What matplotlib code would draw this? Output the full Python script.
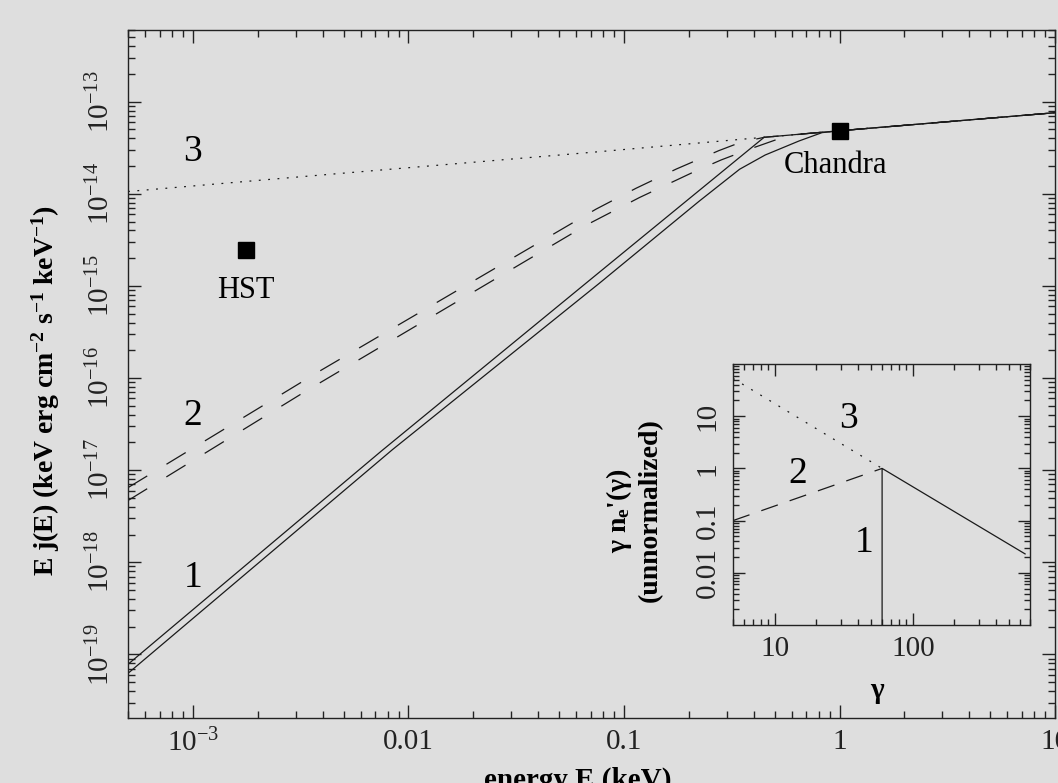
import numpy as np
import matplotlib
matplotlib.use("Agg")
import matplotlib.pyplot as plt
from matplotlib.ticker import FixedLocator, FixedFormatter, LogLocator, NullFormatter

plt.rcParams['font.family'] = ['Liberation Serif', 'DejaVu Serif']
plt.rcParams['mathtext.fontset'] = 'custom'
plt.rcParams['mathtext.rm'] = 'Liberation Serif'
plt.rcParams['mathtext.it'] = 'Liberation Serif:italic'
plt.rcParams['mathtext.bf'] = 'Liberation Serif:bold'

BG = '#dedede'

# --- main panel data: energy (keV) vs E j(E) ---
e_1a = [5e-4, 7.46e-3, 0.0769, 0.447, 1.0, 10.0]
f_1a = [7.8e-20, 1.6e-17, 1.41e-15, 4.11e-14, 4.84e-14, 7.6e-14]

e_1b = [5e-4, 8.43e-3, 0.0769, 0.223, 0.344, 0.452, 0.649, 0.83, 1.0, 10.0]
f_1b = [6.22e-20, 1.67e-17, 1.07e-15, 8.3e-15, 1.85e-14, 2.64e-14, 3.75e-14, 4.62e-14, 4.84e-14, 7.6e-14]

e_2a = [5e-4, 3.92e-3, 0.0741, 0.1138, 0.175, 0.275, 0.344, 0.447, 1.0, 10.0]
f_2a = [6.46e-18, 1.21e-16, 6.81e-15, 1.15e-14, 1.86e-14, 2.94e-14, 3.59e-14, 4.11e-14, 4.84e-14, 7.6e-14]

e_2b = [5e-4, 3.29e-3, 0.0671, 0.1178, 0.157, 0.212, 0.282, 0.381, 0.515, 0.615, 0.708, 1.0, 10.0]
f_2b = [4.68e-18, 7.05e-17, 4.60e-15, 9.10e-15, 1.25e-14, 1.74e-14, 2.33e-14, 3.05e-14,
        3.91e-14, 4.36e-14, 4.52e-14, 4.84e-14, 7.6e-14]

e_3 = [5e-4, 3.24e-3, 0.0769, 0.447, 1.0, 10.0]
f_3 = [1.06e-14, 1.54e-14, 2.87e-14, 4.11e-14, 4.84e-14, 7.6e-14]

obs_names = ['HST', 'Chandra']
obs_e = [1.77e-3, 1.0]
obs_f = [2.47e-15, 4.84e-14]

xticks_main = [1e-3, 0.01, 0.1, 1, 10]
xlabels_main = [r'$\mathregular{10^{-3}}$', '0.01', '0.1', '1', '10']
yticks_main = [1e-19, 1e-18, 1e-17, 1e-16, 1e-15, 1e-14, 1e-13]
ylabels_main = [r'$\mathregular{10^{%d}}$' % k for k in range(-19, -12)]

# --- inset data: electron distribution ---
g_1 = [60, 60, 650]
n_1 = [1e-3, 1.0, 0.023]
g_2 = [5, 60]
n_2 = [0.1, 1.0]
g_3 = [5, 60]
n_3 = [53, 1.0]

xticks_in = [10, 100]
xlabels_in = ['10', '100']
yticks_in = [0.01, 0.1, 1, 10]
ylabels_in = ['0.01', '0.1', '1', '10']

fig = plt.figure(figsize=(10.58, 7.83), dpi=100, facecolor=BG)
ax = fig.add_axes([0.121, 0.0836, 0.8762, 0.878], facecolor=BG)

lc = '#1a1a1a'
ax.plot(e_3, f_3, color=lc, lw=0.9, ls=(0, (1.5, 6)))
ax.plot(e_2a, f_2a, color=lc, lw=0.9, ls=(0, (18, 18)))
ax.plot(e_2b, f_2b, color=lc, lw=0.9, ls=(0, (18, 18)))
ax.plot(e_1a, f_1a, color=lc, lw=0.9)
ax.plot(e_1b, f_1b, color=lc, lw=0.9)
ax.plot(obs_e, obs_f, ls='none', marker='s', ms=12, color='black')

ax.set_xscale('log')
ax.set_yscale('log')
ax.set_xlim(5e-4, 10)
ax.set_ylim(2.06e-20, 6.0e-13)

ax.xaxis.set_major_locator(FixedLocator(xticks_main))
ax.xaxis.set_major_formatter(FixedFormatter(xlabels_main))
ax.xaxis.set_minor_locator(LogLocator(base=10, subs=np.arange(2, 10), numticks=20))
ax.xaxis.set_minor_formatter(NullFormatter())
ax.yaxis.set_major_locator(FixedLocator(yticks_main))
ax.yaxis.set_major_formatter(FixedFormatter(ylabels_main))
ax.yaxis.set_minor_locator(LogLocator(base=10, subs=np.arange(2, 10), numticks=20))
ax.yaxis.set_minor_formatter(NullFormatter())

ax.tick_params(which='both', direction='in', top=True, right=True, width=1.0, colors='#222222')
ax.tick_params(which='major', length=9.5)
ax.tick_params(which='minor', length=4.7)
ax.tick_params(axis='x', which='major', labelsize=21, pad=8)
ax.tick_params(axis='y', which='major', labelsize=21, pad=9, labelrotation=90)
for lab in ax.get_yticklabels():
    lab.set_va('center')
for sp in ax.spines.values():
    sp.set_linewidth(1.0)
    sp.set_color('#222222')

ax.set_xlabel('energy E (keV)', fontsize=21, fontweight='bold')
ax.xaxis.set_label_coords(0.485, -0.072)
ax.set_ylabel(r'E j(E) (keV erg cm$^{\mathbf{-2}}$ s$^{\mathbf{-1}}$ keV$^{\mathbf{-1}}$)',
              fontsize=20, fontweight='bold')
ax.yaxis.set_label_coords(-0.071, 0.476)

ax.text(1.77e-3, 9.0e-16, 'HST', fontsize=22, ha='center', va='center')
ax.text(0.96, 2.05e-14, 'Chandra', fontsize=22, ha='center', va='center')
ax.text(1.0e-3, 2.85e-14, '3', fontsize=27, ha='center', va='center')
ax.text(1.0e-3, 3.9e-17, '2', fontsize=27, ha='center', va='center')
ax.text(1.0e-3, 6.8e-19, '1', fontsize=27, ha='center', va='center')

# --- inset ---
axi = fig.add_axes([0.6928, 0.2018, 0.2803, 0.3333], facecolor=BG)
axi.plot(g_3, n_3, color=lc, lw=0.9, ls=(0, (1.5, 7)))
axi.plot(g_2, n_2, color=lc, lw=0.9, ls=(0, (14, 10)))
axi.plot(g_1, n_1, color=lc, lw=0.9)
axi.set_xscale('log')
axi.set_yscale('log')
axi.set_xlim(5, 700)
axi.set_ylim(1e-3, 100)
axi.xaxis.set_major_locator(FixedLocator(xticks_in))
axi.xaxis.set_major_formatter(FixedFormatter(xlabels_in))
axi.xaxis.set_minor_locator(LogLocator(base=10, subs=np.arange(2, 10), numticks=20))
axi.xaxis.set_minor_formatter(NullFormatter())
axi.yaxis.set_major_locator(FixedLocator(yticks_in))
axi.yaxis.set_major_formatter(FixedFormatter(ylabels_in))
axi.yaxis.set_minor_locator(LogLocator(base=10, subs=np.arange(2, 10), numticks=20))
axi.yaxis.set_minor_formatter(NullFormatter())
axi.tick_params(which='both', direction='in', top=True, right=True, width=1.0, colors='#222222')
axi.tick_params(which='major', length=8.5)
axi.tick_params(which='minor', length=4.2)
axi.tick_params(axis='x', which='major', labelsize=21, pad=8)
axi.tick_params(axis='y', which='major', labelsize=21, pad=9, labelrotation=90)
for lab in axi.get_yticklabels():
    lab.set_va('center')
for sp in axi.spines.values():
    sp.set_linewidth(1.0)
    sp.set_color('#222222')
axi.set_xlabel('γ', fontsize=21, fontweight='bold')
axi.xaxis.set_label_coords(0.485, -0.2)
axi.set_ylabel("γ n$_{\\mathbf{e}}$'(γ)\n(unnormalized)", fontsize=20, fontweight='bold',
               multialignment='center')
axi.yaxis.set_label_coords(-0.236, 0.44)
axi.text(34.2, 8.8, '3', fontsize=27, ha='center', va='center')
axi.text(14.6, 0.78, '2', fontsize=27, ha='center', va='center')
axi.text(44.7, 0.037, '1', fontsize=27, ha='center', va='center')

fig.savefig('out.png', dpi=100, facecolor=BG)
